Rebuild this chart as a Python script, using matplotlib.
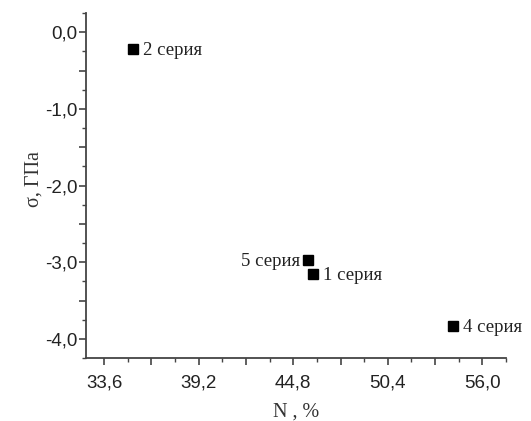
import matplotlib
matplotlib.use('Agg')
import numpy as np
import matplotlib.pyplot as plt
from matplotlib.ticker import MultipleLocator, FuncFormatter

# Данные: содержание N и напряжения для серий
series = ['2 серия', '5 серия', '1 серия', '4 серия']
n_pct = [35.33, 45.69, 45.98, 54.26]
sigma = [-0.22, -2.97, -3.15, -3.83]
label_side = ['right', 'left', 'right', 'right']

fig = plt.figure(figsize=(5.31, 4.21), dpi=100)
ax = fig.add_axes([0.162, 0.1496, 0.953 - 0.162, 0.969 - 0.1496])

ax.plot(n_pct, sigma, 's', color='black', markersize=7.2, linestyle='none')

serif = 'Liberation Serif'
for name, x, y, side in zip(series, n_pct, sigma, label_side):
    if side == 'right':
        ax.annotate(name, (x, y), xytext=(7, -1), textcoords='offset points',
                    ha='left', va='center', fontsize=13.5, family=serif,
                    color='#222222')
    else:
        ax.annotate(name, (x, y), xytext=(-6, -1.5), textcoords='offset points',
                    ha='right', va='center', fontsize=13.5, family=serif,
                    color='#222222')

ax.set_xlim(32.53, 57.4)
ax.set_ylim(-4.25, 0.25)

ax.xaxis.set_major_locator(MultipleLocator(2.8))
ax.xaxis.set_minor_locator(MultipleLocator(1.4))
ax.yaxis.set_major_locator(MultipleLocator(0.5))
ax.yaxis.set_minor_locator(MultipleLocator(0.25))


def fmt_x(v, pos):
    k = v / 5.6
    if abs(k - round(k)) < 1e-6:
        return f'{v:.1f}'.replace('.', ',')
    return ''


def fmt_y(v, pos):
    if abs(v - round(v)) < 1e-6:
        return f'{v:.1f}'.replace('.', ',')
    return ''


ax.xaxis.set_major_formatter(FuncFormatter(fmt_x))
ax.yaxis.set_major_formatter(FuncFormatter(fmt_y))

for s in ['top', 'right']:
    ax.spines[s].set_visible(False)
for s in ['left', 'bottom']:
    ax.spines[s].set_color('#444444')
    ax.spines[s].set_linewidth(1.3)

ax.tick_params(which='major', direction='out', length=5, width=1.2,
               color='#444444', labelsize=13.5, labelcolor='#222222')
ax.tick_params(which='minor', direction='out', length=3, width=1.0,
               color='#444444')
for lab in ax.get_xticklabels() + ax.get_yticklabels():
    lab.set_family('Liberation Sans')
ax.tick_params(axis='x', pad=7)
ax.tick_params(axis='y', pad=1)

ax.set_xlabel('N , %', family=serif, fontsize=14.5, color='#333333', labelpad=8)
ax.set_ylabel('σ, ГПа', family=serif, fontsize=14.5, color='#333333')
ax.yaxis.set_label_coords(-0.1, 0.52)

fig.savefig('out.png', dpi=100)
